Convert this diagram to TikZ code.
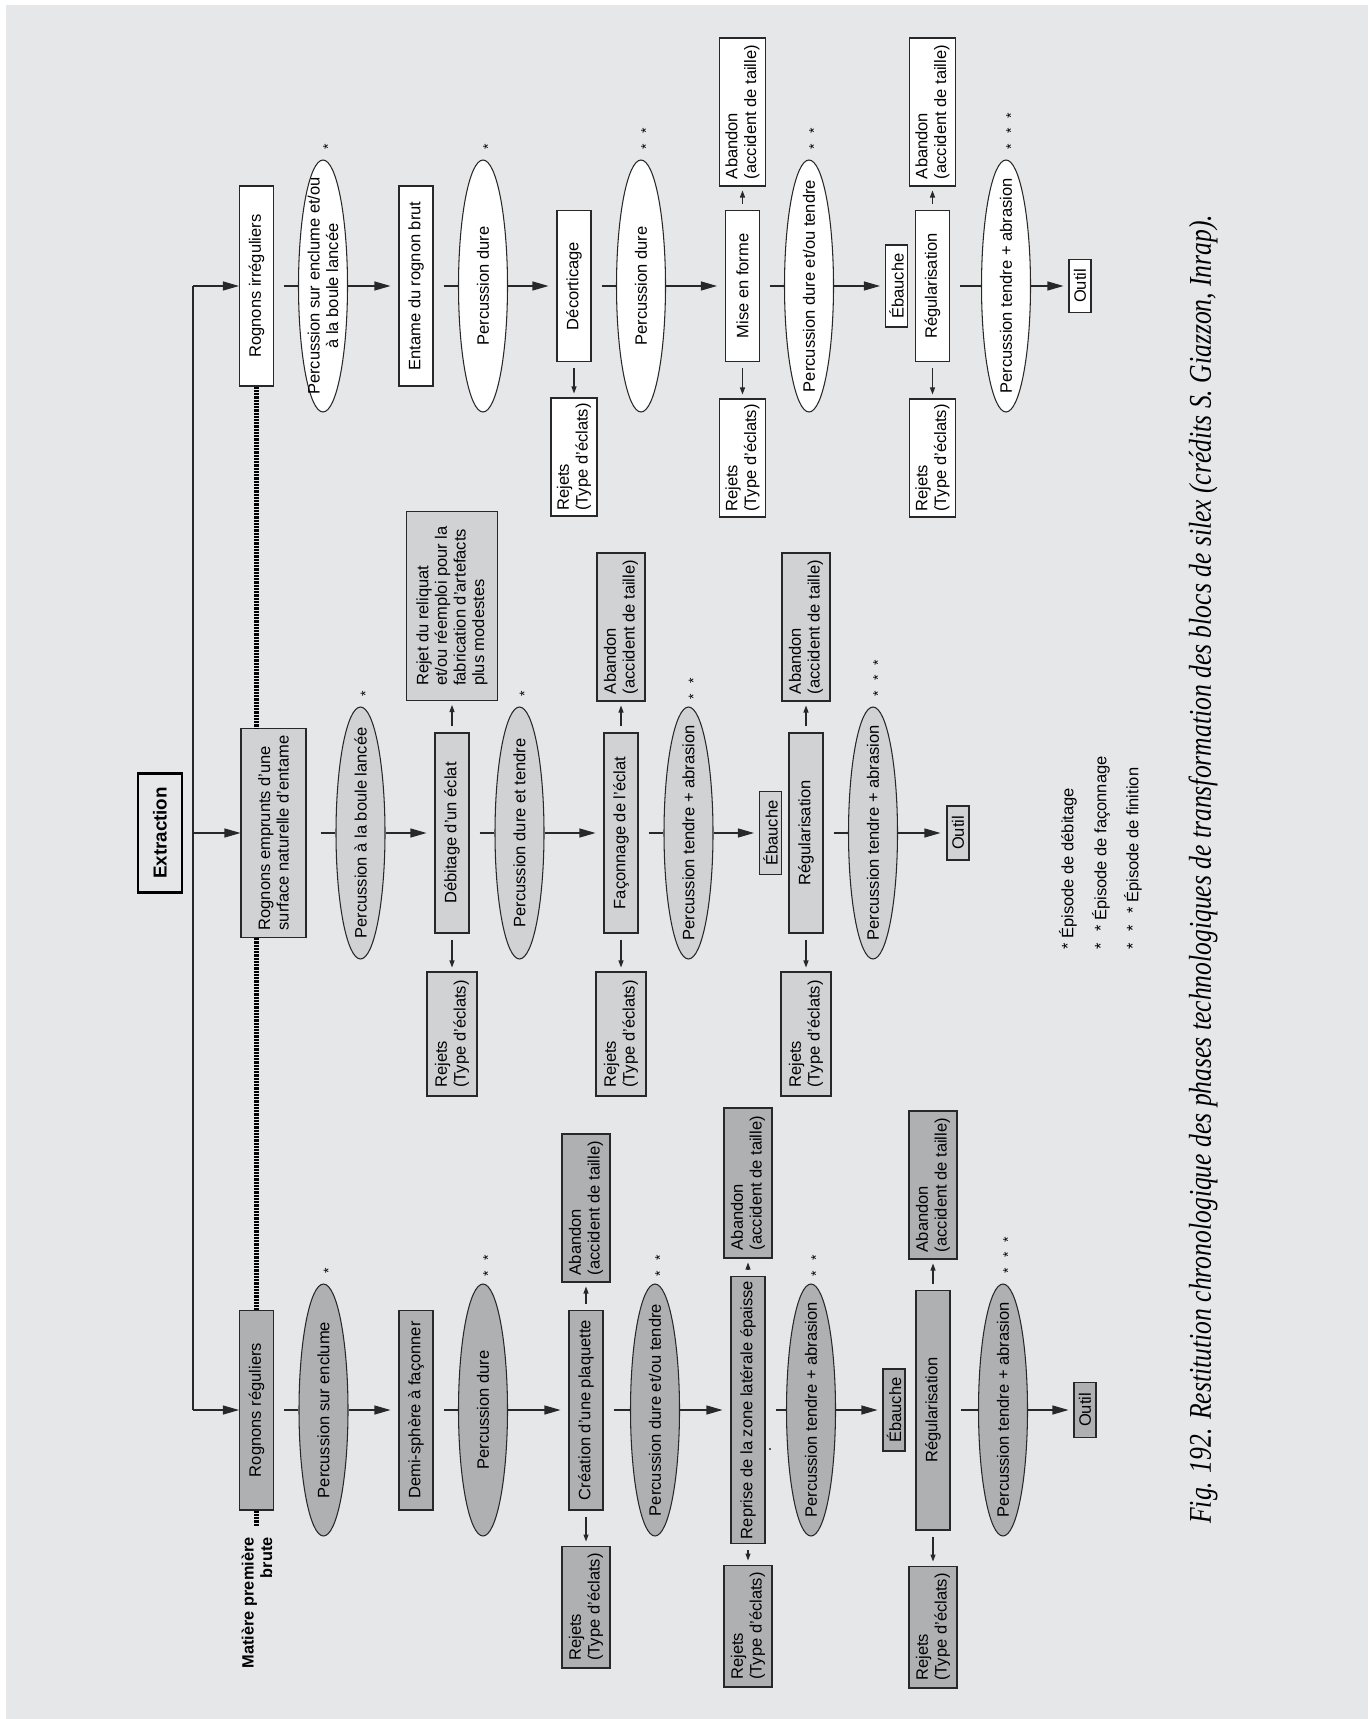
\documentclass[tikz,border=0pt]{standalone}
\usepackage{graphicx}
\usepackage{fontspec}
\setmainfont{Liberation Sans}
\newfontfamily\captfont{Liberation Serif}
\usetikzlibrary{arrows.meta,shapes.geometric}
\definecolor{PaperGray}{RGB}{230,231,232}
\definecolor{DarkFill}{RGB}{175,176,178}
\definecolor{LightFill}{RGB}{209,210,212}
\definecolor{LineGray}{RGB}{40,40,40}
\newcommand{\diagfont}{\fontsize{9.4}{10.6}\selectfont}
\newcommand{\twostars}{*\hspace{0.7em}*}
\newcommand{\threestars}{*\hspace{0.7em}*\hspace{0.7em}*}
\tikzset{
	box/.style={draw=LineGray, line width=0.6pt, rotate=90, inner sep=1pt, align=center, font=\diagfont},
	stage/.style={box, minimum width=4cm, minimum height=0.68cm},
	ell/.style={ellipse, draw=LineGray, line width=0.6pt, rotate=90, inner xsep=-1.2cm, inner ysep=-0.2cm,
		minimum width=5.04cm, minimum height=0.98cm, align=center, font=\diagfont},
	rej/.style={box, align=left, minimum width=2.44cm, minimum height=0.96cm},
	aband/.style={box, align=left, minimum width=2.96cm, minimum height=0.96cm},
	tag/.style={box, inner sep=0pt, minimum height=0.44cm},
	title/.style={draw=black, line width=1.3pt, rotate=90, font=\fontsize{10.7}{12}\selectfont\bfseries,
		minimum width=2.38cm, minimum height=0.88cm},
	flow/.style={draw=LineGray, line width=0.6pt},
	arr/.style={flow, -{Triangle[length=0.32cm,width=0.18cm]}},
	into/.style={arr, shorten >=0.16cm},
	side/.style={flow, -{Triangle[length=0.14cm,width=0.1cm]}, shorten <=0.12cm, shorten >=0.08cm},
	dots/.style={draw=black, line width=0.1cm, dash pattern=on 0.045cm off 0.02cm},
	star/.style={rotate=90, anchor=west, inner sep=0pt, font=\fontsize{8}{8}\selectfont},
	note/.style={rotate=90, anchor=west, inner sep=0pt, font=\diagfont},
	dark/.style={fill=DarkFill}, light/.style={fill=LightFill}, blank/.style={fill=white}
}

\begin{document}
\begin{tikzpicture}[x=0.02cm, y=-0.02cm]
	\useasboundingbox (0,0) rectangle (1368,1719);
	\fill[white] (0,0) rectangle (1368,1719);
	\fill[PaperGray] (6,5) rectangle (1368,1719);
	
	% extraction and the three branches
	\node[title] (extr) at (160,833) {Extraction};
	\coordinate (j3) at (193,286);
	\coordinate (j2) at (193,833);
	\coordinate (j1) at (193,1410);
	\node[rotate=90, anchor=east, align=right, inner sep=0pt, font=\fontsize{9.3}{10.5}\selectfont\bfseries] (brute)
	at (257,1537) {Matière première\\brute};
	
	% rognons reguliers
	\node[stage, dark] (rg0) at (256.5,1410) {Rognons réguliers};
	\node[ell, dark] (rgP1) at (323.5,1410) {Percussion sur enclume};
	\node[stage, dark] (rg1) at (416,1410) {Demi-sphère à façonner};
	\node[ell, dark] (rgP2) at (483,1410) {Percussion dure};
	\node[stage, dark] (rg2) at (586,1410) {Création d'une plaquette};
	\node[aband, dark] (rg2a) at (586,1208) {Abandon\\(accident de taille)};
	\node[rej, dark] (rg2r) at (586,1607) {Rejets\\(Type d'éclats)};
	\node[ell, dark] (rgP3) at (655,1410) {Percussion dure et/ou tendre};
	\node[stage, dark, minimum width=5.34cm] (rg3) at (748,1410) {Reprise de la zone latérale épaisse};
	\node[aband, dark, minimum width=3cm] (rg3a) at (748,1183) {Abandon\\(accident de taille)};
	\node[rej, dark] (rg3r) at (748,1626) {Rejets\\(Type d'éclats)};
	\node[ell, dark] (rgP4) at (811,1410) {Percussion tendre + abrasion};
	\node[tag, dark, minimum width=1.64cm] (rg4) at (894,1410) {Ébauche};
	\node[stage, dark, minimum width=4.8cm] (rg5) at (933,1410) {Régularisation};
	\node[aband, dark] (rg5a) at (933,1185) {Abandon\\(accident de taille)};
	\node[rej, dark] (rg5r) at (933,1627) {Rejets\\(Type d'éclats)};
	\node[ell, dark] (rgP5) at (1003,1410) {Percussion tendre + abrasion};
	\node[tag, dark, minimum width=1.1cm] (rg6) at (1085,1410) {Outil};
	\fill[LineGray] (770,1449) circle (0.6pt);
	
	% rognons a surface naturelle d'entame
	\node[stage, light, align=left, minimum width=4.18cm, minimum height=1.3cm] (em0) at (273.5,833)
	{Rognons emprunts d'une\\surface naturelle d'entame};
	\node[ell, light] (emP1) at (360.5,833) {Percussion à la boule lancée};
	\node[stage, light] (em1) at (452,833) {Débitage d'un éclat};
	\node[box, light, align=left, minimum width=3.78cm, minimum height=1.82cm] (em1a) at (452,606)
	{Rejet du reliquat\\et/ou réemploi pour la\\fabrication d'artefacts\\plus modestes};
	\node[rej, light, minimum width=2.48cm, minimum height=1cm] (em1r) at (452,1034) {Rejets\\(Type d'éclats)};
	\node[ell, light] (emP2) at (519.5,833) {Percussion dure et tendre};
	\node[stage, light] (em2) at (621,833) {Façonnage de l'éclat};
	\node[aband, light] (em2a) at (621,627) {Abandon\\(accident de taille)};
	\node[rej, light, minimum width=2.48cm, minimum height=1cm] (em2r) at (621,1034) {Rejets\\(Type d'éclats)};
	\node[ell, light] (emP3) at (688.5,833) {Percussion tendre + abrasion};
	\node[tag, light, minimum width=1.66cm] (em3) at (770.5,833) {Ébauche};
	\node[stage, light] (em4) at (806,833) {Régularisation};
	\node[aband, light] (em4a) at (806,627) {Abandon\\(accident de taille)};
	\node[rej, light, minimum width=2.48cm, minimum height=1cm] (em4r) at (806,1034) {Rejets\\(Type d'éclats)};
	\node[ell, light] (emP4) at (873,833) {Percussion tendre + abrasion};
	\node[tag, light, minimum width=1.08cm] (em5) at (958,833) {Outil};
	
	% rognons irreguliers
	\node[stage, blank] (ir0) at (256.5,286) {Rognons irréguliers};
	\node[ell, blank] (irP1) at (323,286) {Percussion sur enclume et/ou\\à la boule lancée};
	\node[stage, blank] (ir1) at (416,286) {Entame du rognon brut};
	\node[ell, blank] (irP2) at (483,286) {Percussion dure};
	\node[stage, blank, minimum width=3.02cm] (ir2) at (574,286) {Décorticage};
	\node[rej, blank, minimum width=2.36cm, minimum height=0.92cm] (ir2r) at (574,457) {Rejets\\(Type d'éclats)};
	\node[ell, blank] (irP3) at (641,286) {Percussion dure};
	\node[stage, blank, minimum width=3.02cm] (ir3) at (742.5,286) {Mise en forme};
	\node[aband, blank, minimum height=0.92cm] (ir3a) at (742.5,112) {Abandon\\(accident de taille)};
	\node[rej, blank, minimum width=2.36cm, minimum height=0.92cm] (ir3r) at (742.5,458) {Rejets\\(Type d'éclats)};
	\node[ell, blank] (irP4) at (809,286) {Percussion dure et/ou tendre};
	\node[tag, blank, minimum width=1.64cm] (ir4) at (896.5,286) {Ébauche};
	\node[stage, blank, minimum width=3.02cm] (ir5) at (932.5,286) {Régularisation};
	\node[aband, blank, minimum height=0.92cm] (ir5a) at (932.5,112) {Abandon\\(accident de taille)};
	\node[rej, blank, minimum width=2.36cm, minimum height=0.92cm] (ir5r) at (932.5,458) {Rejets\\(Type d'éclats)};
	\node[ell, blank] (irP5) at (1006,286) {Percussion tendre + abrasion};
	\node[tag, blank, minimum width=1.06cm] (ir6) at (1080,286) {Outil};
	
	% episode marks
	\node[star] at ([xshift=0.1cm, yshift=0.2cm]rgP1.east) {*};
	\node[star] at ([xshift=0.1cm, yshift=0.14cm]rgP2.east) {\twostars};
	\node[star] at ([xshift=0.1cm, yshift=0.14cm]rgP3.east) {\twostars};
	\node[star] at ([xshift=0.1cm, yshift=0.14cm]rgP4.east) {\twostars};
	\node[star] at ([xshift=0.1cm, yshift=0.2cm]rgP5.east) {\threestars};
	\node[star] at ([xshift=0.1cm, yshift=0.2cm]emP1.east) {*};
	\node[star] at ([xshift=0.1cm, yshift=0.2cm]emP2.east) {*};
	\node[star] at ([xshift=0.1cm, yshift=0.14cm]emP3.east) {\twostars};
	\node[star] at ([xshift=0.1cm, yshift=0.2cm]emP4.east) {\threestars};
	\node[star] at ([xshift=0.1cm, yshift=0.2cm]irP1.east) {*};
	\node[star] at ([xshift=0.1cm, yshift=0.2cm]irP2.east) {*};
	\node[star] at ([xshift=0.1cm, yshift=0.2cm]irP3.east) {\twostars};
	\node[star] at ([xshift=0.1cm, yshift=0.2cm]irP4.east) {\twostars};
	\node[star] at ([xshift=0.1cm, yshift=0.2cm]irP5.east) {\threestars};
	
	% trunk and dotted raw-material line
	\draw[flow] (j3) -- (j1);
	\draw[arr] (j3) -- (ir0);
	\draw[arr] (j2) -- (em0);
	\draw[arr] (j1) -- (rg0);
	\draw[dots] (ir0.west) -- (ir0.west |- em0.east);
	\draw[dots] (ir0.west |- em0.west) -- (rg0.east);
	\draw[dots] (rg0.west) -- ++(0,16);
	
	% flow, reguliers
	\draw[flow, shorten <=0.2cm] (rg0) -- (rgP1);
	\draw[into] (rgP1) -- (rg1);
	\draw[flow, shorten <=0.2cm] (rg1) -- (rgP2);
	\draw[into] (rgP2) -- (rg2);
	\draw[flow, shorten <=0.2cm] (rg2) -- (rgP3);
	\draw[into] (rgP3) -- (rg3);
	\draw[flow, shorten <=0.2cm] (rg3) -- (rgP4);
	\draw[into, shorten >=0.1cm] (rgP4) -- (rg4);
	\draw[flow, shorten <=0.2cm] (rg5) -- (rgP5);
	\draw[into, shorten >=0.1cm] (rgP5) -- (rg6);
	\draw[side] (rg2) -- (rg2a);
	\draw[side] (rg2) -- (rg2r);
	\draw[side] (rg3) -- (rg3a);
	\draw[side] (rg3) -- (rg3r);
	\draw[side] (rg5) -- (rg5a);
	\draw[side] (rg5) -- (rg5r);
	
	% flow, surface naturelle
	\draw[flow, shorten <=0.28cm] (em0) -- (emP1);
	\draw[into] (emP1) -- (em1);
	\draw[flow, shorten <=0.2cm] (em1) -- (emP2);
	\draw[into] (emP2) -- (em2);
	\draw[flow, shorten <=0.2cm] (em2) -- (emP3);
	\draw[into, shorten >=0.1cm] (emP3) -- (em3);
	\draw[flow, shorten <=0.2cm] (em4) -- (emP4);
	\draw[into, shorten >=0.12cm] (emP4) -- (em5);
	\draw[side] (em1) -- (em1a);
	\draw[side] (em1) -- (em1r);
	\draw[side] (em2) -- (em2a);
	\draw[side] (em2) -- (em2r);
	\draw[side] (em4) -- (em4a);
	\draw[side] (em4) -- (em4r);
	
	% flow, irreguliers
	\draw[flow, shorten <=0.2cm] (ir0) -- (irP1);
	\draw[into] (irP1) -- (ir1);
	\draw[flow, shorten <=0.2cm] (ir1) -- (irP2);
	\draw[into] (irP2) -- (ir2);
	\draw[flow, shorten <=0.2cm] (ir2) -- (irP3);
	\draw[into] (irP3) -- (ir3);
	\draw[flow, shorten <=0.2cm] (ir3) -- (irP4);
	\draw[into, shorten >=0.1cm] (irP4) -- (ir4);
	\draw[flow, shorten <=0.2cm] (ir5) -- (irP5);
	\draw[into, shorten >=0.1cm] (irP5) -- (ir6);
	\draw[side] (ir2) -- (ir2r);
	\draw[side] (ir3) -- (ir3a);
	\draw[side] (ir3) -- (ir3r);
	\draw[side] (ir5) -- (ir5a);
	\draw[side] (ir5) -- (ir5r);
	
	% legend and caption
	\node[note] (leg1) at (1068,950) {* Épisode de débitage};
	\node[note] (leg2) at (1101,950) {\twostars{} Épisode de façonnage};
	\node[note] (leg3) at (1133,950) {\threestars{} Épisode de finition};
	\node[rotate=90, anchor=west, inner sep=0pt, font=\captfont\itshape\fontsize{18}{20}\selectfont] (capt)
	at (1203,1524) {\scalebox{0.81}[1]{Fig. 192. Restitution chronologique des phases technologiques de transformation des blocs de silex (crédits S. Giazzon, Inrap).}};
\end{tikzpicture}
\end{document}
